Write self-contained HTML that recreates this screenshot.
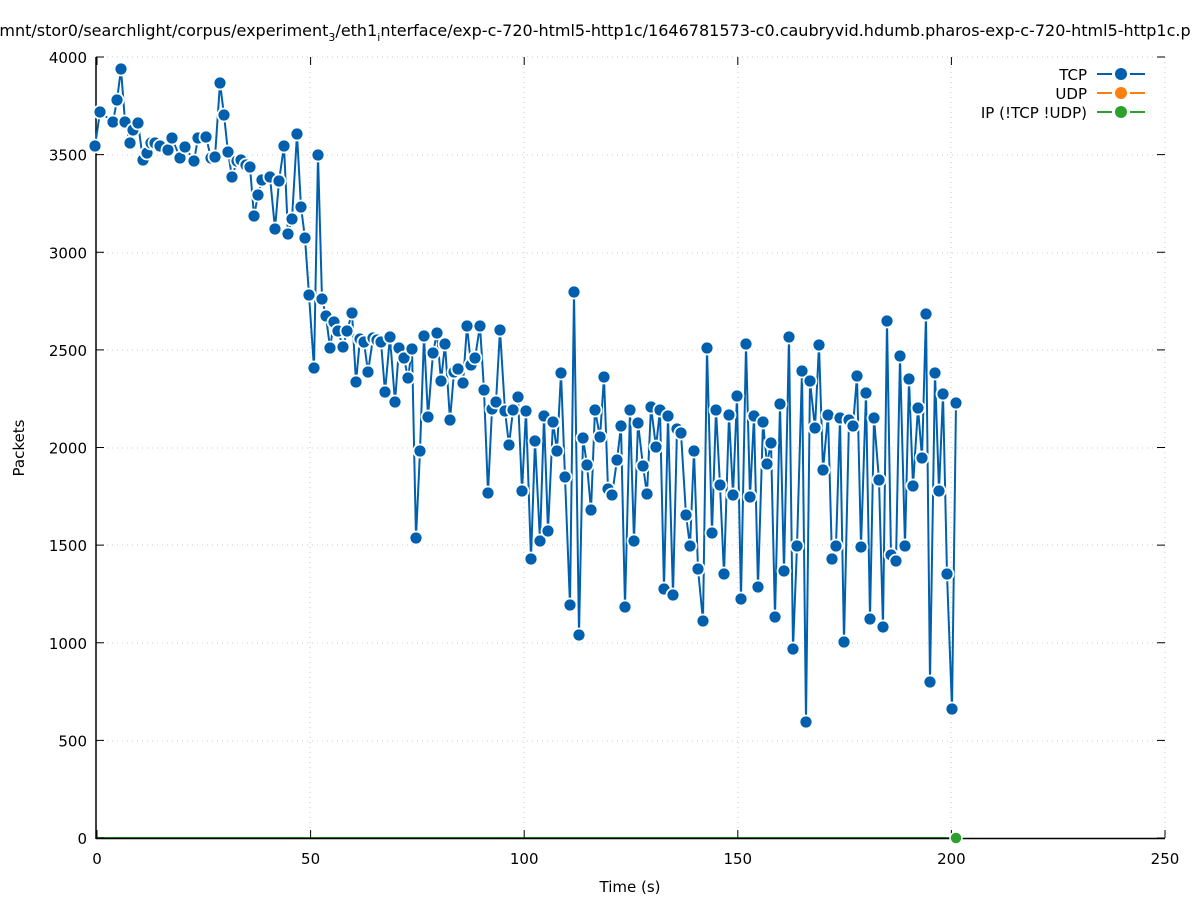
<!DOCTYPE html>
<html><head><meta charset="utf-8"><style>body{margin:0;background:#fff}svg{display:block;font-family:"DejaVu Sans","Liberation Sans",sans-serif}</style></head>
<body>
<svg id="s" width="1197" height="900" xmlns="http://www.w3.org/2000/svg">
<text x="-6" y="36" font-size="16">/mnt/stor0/searchlight/corpus/experiment<tspan font-size="11" dy="5">3</tspan><tspan dy="-5">/eth1</tspan><tspan font-size="11" dy="5">i</tspan><tspan dy="-5">nterface/exp-c-720-html5-http1c/1646781573-c0.caubryvid.hdumb.pharos-exp-c-720-html5-http1c.p</tspan></text>
<g stroke="#c8c8c8" stroke-dasharray="1,4" stroke-width="1">
<line x1="97" y1="741" x2="1165" y2="741"/><line x1="97" y1="643" x2="1165" y2="643"/><line x1="97" y1="545" x2="1165" y2="545"/><line x1="97" y1="448" x2="1165" y2="448"/><line x1="97" y1="350" x2="1165" y2="350"/><line x1="97" y1="253" x2="1165" y2="253"/><line x1="97" y1="155" x2="1165" y2="155"/><line x1="97" y1="57" x2="1165" y2="57"/>
<line x1="310" y1="57" x2="310" y2="838"/><line x1="524" y1="57" x2="524" y2="838"/><line x1="738" y1="57" x2="738" y2="838"/><line x1="951" y1="57" x2="951" y2="838"/><line x1="1165" y1="57" x2="1165" y2="838"/>
</g>
<line x1="97" y1="838" x2="956" y2="838" stroke="#2ca02c" stroke-width="2"/>
<g stroke="#000" stroke-width="1.5" fill="none">
<line x1="96" y1="57" x2="96" y2="839"/><line x1="96" y1="838.5" x2="1165" y2="838.5"/>
</g>
<g id="ticks" stroke="#000" stroke-width="1"></g>
<g font-size="15" text-anchor="end" id="yl"></g>
<g font-size="15" text-anchor="middle" id="xl"></g>
<text x="630" y="892" font-size="15" text-anchor="middle">Time (s)</text>
<text transform="translate(24,448) rotate(-90)" font-size="15" text-anchor="middle">Packets</text>
<g id="data"></g>
<circle cx="956" cy="838" r="6" fill="#2ca02c" stroke="#fff" stroke-width="1.5"/>
<g font-size="15" text-anchor="end">
<text x="1087" y="80">TCP</text><text x="1087" y="99">UDP</text><text x="1087" y="118">IP (!TCP  !UDP)</text>
</g>
<g stroke-width="2">
<g stroke="#0060ad"><line x1="1097" y1="74" x2="1112" y2="74"/><line x1="1130" y1="74" x2="1145" y2="74"/></g><circle cx="1121" cy="74" r="6" fill="#0060ad"/>
<g stroke="#ff7f0e"><line x1="1097" y1="93" x2="1112" y2="93"/><line x1="1130" y1="93" x2="1145" y2="93"/></g><circle cx="1121" cy="93" r="6" fill="#ff7f0e"/>
<g stroke="#2ca02c"><line x1="1097" y1="112" x2="1112" y2="112"/><line x1="1130" y1="112" x2="1145" y2="112"/></g><circle cx="1121" cy="112" r="6" fill="#2ca02c"/>
</g>
</svg>
<script>
var NS="http://www.w3.org/2000/svg";
function el(t,a,p){var e=document.createElementNS(NS,t);for(var k in a)e.setAttribute(k,a[k]);document.getElementById(p).appendChild(e);return e;}
for(var v=0;v<=4000;v+=500){var y=838-v*0.19525;el("line",{x1:96,y1:y,x2:104,y2:y},"ticks");el("line",{x1:1157,y1:y,x2:1165,y2:y},"ticks");var t=el("text",{x:87,y:y+6},"yl");t.textContent=v;}
for(var i=0;i<=250;i+=50){var x=97+i*4.272;el("line",{x1:x,y1:838,x2:x,y2:830},"ticks");if(i<250)el("line",{x1:x,y1:57,x2:x,y2:65},"ticks");var t=el("text",{x:x,y:864},"xl");t.textContent=i;}
var P=[95,146,100,112,113,122,117,100,121,69,125,122,130,143,133,130,138,123,143,160,147,153,151,143,155,143,160,146,168,150,172,138,180,158,185,147,194,161,198,138,206,137,211,158,215,157,220,83,224,115,228,152,232,177,237,161,241,160,246,165,250,167,254,216,258,195,262,180,270,177,275,229,279,181,284,146,288,234,292,219,297,134,301,207,305,238,309,295,314,368,318,155,322,299,326,316,330,348,334,322,338,331,343,347,347,331,352,313,356,382,360,339,364,342,368,372,373,338,377,340,381,342,385,392,390,337,395,402,399,348,404,358,408,378,412,349,416,538,420,451,424,336,428,417,433,353,437,333,441,381,445,344,450,420,454,372,458,369,463,383,467,326,471,365,475,358,480,326,484,390,488,493,492,409,496,402,500,330,505,411,509,445,513,410,518,397,522,491,526,411,531,559,535,441,540,541,544,416,548,531,553,422,557,451,561,373,565,477,570,605,574,292,579,635,583,438,587,465,591,510,595,410,600,437,604,377,608,489,612,495,617,460,621,426,625,607,630,410,634,541,638,423,643,466,647,494,651,407,656,447,660,410,664,589,668,416,673,595,677,429,681,433,686,515,690,546,694,451,698,569,703,621,707,348,712,533,716,410,720,485,724,574,729,415,733,495,737,396,741,599,746,344,750,497,754,416,758,587,763,422,767,464,771,443,775,617,780,404,784,571,789,337,793,649,797,546,802,371,806,722,810,381,815,428,819,345,823,470,828,415,832,559,836,546,840,418,844,642,849,420,853,426,857,376,861,547,866,393,870,619,874,418,879,480,883,627,887,321,891,555,896,561,900,356,905,546,909,379,913,486,918,408,922,458,926,314,930,682,935,373,939,491,943,394,947,574,952,709,956,403];
var pts=[];for(var i=0;i<P.length;i+=2)pts.push(P[i]+","+P[i+1]);
el("polyline",{points:pts.join(" "),fill:"none",stroke:"#0060ad","stroke-width":2,"stroke-linejoin":"round"},"data");
for(var i=0;i<P.length;i+=2)el("circle",{cx:P[i],cy:P[i+1],r:6.5,fill:"#0060ad",stroke:"#fff","stroke-width":1.8},"data");
</script>
</body></html>
